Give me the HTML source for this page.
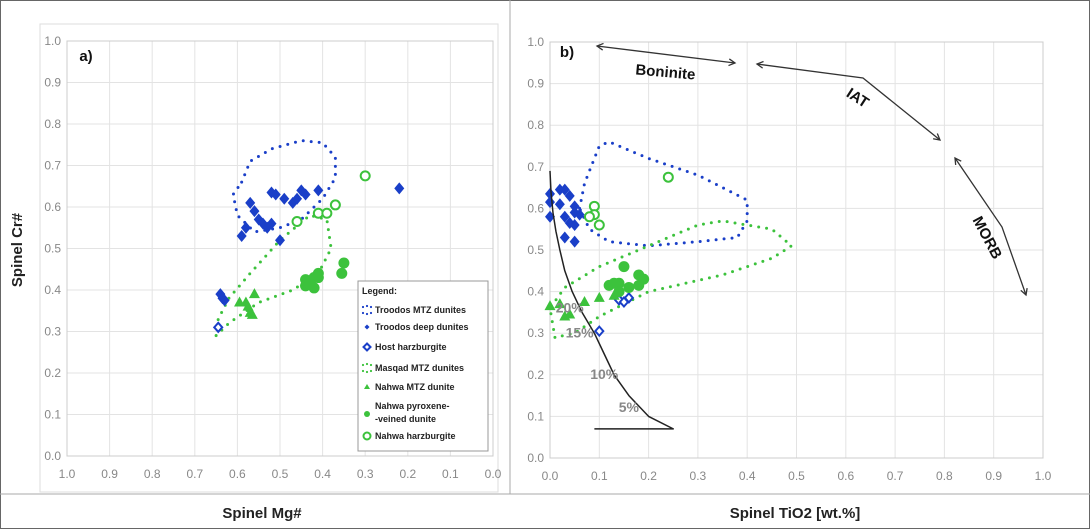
<!DOCTYPE html>
<html><head><meta charset="utf-8"><style>
body{margin:0;background:#fff}
svg{display:block;font-family:"Liberation Sans",sans-serif}
</style></head><body>
<svg id="c" width="1090" height="530" viewBox="0 0 1090 530">
<rect x="0.5" y="0.5" width="1089" height="528" fill="#fff" stroke="#666"/>
<line x1="0" y1="494" x2="1090" y2="494" stroke="#aaa"/>
<line x1="510" y1="0" x2="510" y2="494" stroke="#aaa"/>
<rect x="40" y="24" width="458" height="468" fill="none" stroke="#ddd"/>
<text x="22" y="250" transform="rotate(-90 22 250)" text-anchor="middle" font-size="15" font-weight="bold" fill="#222">Spinel Cr#</text>
<text x="262" y="518" text-anchor="middle" font-size="15" font-weight="bold" fill="#222">Spinel Mg#</text>
<text x="795" y="518" text-anchor="middle" font-size="15" font-weight="bold" fill="#222">Spinel TiO2 [wt.%]</text>
<g id="ga"></g><g id="gb"></g>
</svg>
<script>
// ---- data panel a (Mg#, Cr#)
const aDeepMg=[0.52,0.51,0.49,0.47,0.45,0.44,0.41,0.46,0.57,0.56,0.55,0.54,0.53,0.52,0.58,0.59,0.50,0.22,0.64,0.635,0.63];
const aDeepCr=[0.635,0.63,0.62,0.61,0.64,0.63,0.64,0.62,0.61,0.59,0.57,0.56,0.55,0.56,0.55,0.53,0.52,0.645,0.39,0.38,0.375];
const aHostMg=[0.645];
const aHostCr=[0.31];
const aMtzMg=[0.58,0.575,0.57,0.56,0.565,0.595];
const aMtzCr=[0.37,0.36,0.345,0.39,0.34,0.37];
const aPyxMg=[0.44,0.43,0.42,0.41,0.44,0.42,0.41,0.35,0.355,0.43];
const aPyxCr=[0.41,0.42,0.405,0.43,0.425,0.43,0.44,0.465,0.44,0.415];
const aHarzMg=[0.30,0.46,0.41,0.39,0.37];
const aHarzCr=[0.675,0.565,0.585,0.585,0.605];
const aTroMg=[0.59,0.57,0.52,0.45,0.40,0.37,0.37,0.40,0.45,0.50,0.56,0.60,0.61];
const aTroCr=[0.66,0.71,0.74,0.76,0.755,0.72,0.67,0.62,0.57,0.55,0.54,0.58,0.63];
const aMasMg=[0.65,0.62,0.55,0.47,0.41,0.38,0.39,0.43,0.50,0.57,0.62,0.645];
const aMasCr=[0.29,0.32,0.37,0.40,0.44,0.50,0.57,0.58,0.52,0.44,0.38,0.33];
// ---- data panel b (TiO2, Cr#)
const bDeepTi=[0.0,0.02,0.03,0.04,0.0,0.02,0.05,0.05,0.06,0.0,0.03,0.04,0.05,0.03,0.05];
const bDeepCr=[0.635,0.645,0.645,0.63,0.615,0.61,0.605,0.59,0.585,0.58,0.58,0.565,0.56,0.53,0.52];
const bHostTi=[0.10,0.14,0.16,0.15];
const bHostCr=[0.305,0.38,0.385,0.375];
const bMtzTi=[0.0,0.02,0.03,0.04,0.07,0.10,0.13];
const bMtzCr=[0.365,0.37,0.34,0.345,0.375,0.385,0.39];
const bPyxTi=[0.15,0.12,0.14,0.16,0.18,0.19,0.18,0.14,0.13];
const bPyxCr=[0.46,0.415,0.42,0.41,0.44,0.43,0.415,0.40,0.42];
const bHarzTi=[0.09,0.09,0.08,0.10,0.24];
const bHarzCr=[0.605,0.585,0.58,0.56,0.675];
const bTroTi=[0.06,0.07,0.10,0.12,0.20,0.30,0.40,0.40,0.38,0.30,0.20,0.12,0.08];
const bTroCr=[0.60,0.66,0.75,0.76,0.72,0.68,0.62,0.57,0.53,0.52,0.51,0.52,0.55];
const bMasTi=[0.01,0.00,0.03,0.10,0.20,0.30,0.35,0.45,0.49,0.45,0.35,0.20,0.10,0.05];
const bMasCr=[0.29,0.36,0.41,0.46,0.51,0.56,0.57,0.55,0.51,0.48,0.44,0.40,0.34,0.30];
const meltTi=[0,0.002,0.006,0.012,0.02,0.03,0.045,0.065,0.09,0.11,0.13,0.16,0.2,0.25,0.09];
const meltCr=[0.69,0.64,0.59,0.545,0.5,0.45,0.4,0.35,0.3,0.25,0.2,0.15,0.1,0.07,0.07];
const meltLabels=["20%","15%","10%","5%"];
const meltLabTi=[0.04,0.06,0.11,0.16];
const meltLabCr=[0.35,0.29,0.19,0.11];
const ticks=[0,0.1,0.2,0.3,0.4,0.5,0.6,0.7,0.8,0.9,1.0];

const NS="http://www.w3.org/2000/svg";
function mk(p,t,at){const e=document.createElementNS(NS,t);for(const k in at)e.setAttribute(k,at[k]);p.appendChild(e);return e;}
const BLUE="#1a3fc8",GREEN="#3cc23c";
const axA={x:v=>67+(1-v)*426,y:v=>456-v*415};
const axB={x:v=>550+v*493,y:v=>458-v*416};
function grid(g,ax,pre){
  ticks.forEach(t=>{
    const l1=mk(g,'line',{x1:ax.x(t),x2:ax.x(t),y1:ax.y(0),y2:ax.y(1),stroke:'#e3e3e3'});
    
    const l2=mk(g,'line',{x1:ax.x(0),x2:ax.x(1),y1:ax.y(t),y2:ax.y(t),stroke:'#e3e3e3'});
    
    const tx=mk(g,'text',{x:ax.x(t),y:ax.y(0)+22,'text-anchor':'middle','font-size':12,fill:'#888'});tx.textContent=t.toFixed(1);
    
    const ty=mk(g,'text',{x:Math.min(ax.x(0),ax.x(1))-6,y:ax.y(t)+4,'text-anchor':'end','font-size':12,fill:'#888'});ty.textContent=t.toFixed(1);
    
  });
  const r=mk(g,'rect',{x:Math.min(ax.x(0),ax.x(1)),y:ax.y(1),width:Math.abs(ax.x(1)-ax.x(0)),height:ax.y(0)-ax.y(1),fill:'none',stroke:'#ccc'});
  
}
function contour(g,ax,xs,ys,col,name){
  const d=xs.map((v,i)=>(i?'L':'M')+ax.x(v)+','+ax.y(ys[i])).join('')+'Z';
  const p=mk(g,'path',{d:d,fill:'none',stroke:col,'stroke-width':3,'stroke-dasharray':'0 8','stroke-linecap':'round','stroke-linejoin':'round'});
  
}
function pts(g,ax,xs,ys,kind,name){
  xs.forEach((v,i)=>{
    const x=ax.x(v),y=ax.y(ys[i]);let e;
    if(kind==='diamond')e=mk(g,'path',{d:`M${x},${y-6}L${x+5},${y}L${x},${y+6}L${x-5},${y}Z`,fill:BLUE});
    else if(kind==='odiamond')e=mk(g,'path',{d:`M${x},${y-4.5}L${x+4},${y}L${x},${y+4.5}L${x-4},${y}Z`,fill:'#fff',stroke:BLUE,'stroke-width':2});
    else if(kind==='tri')e=mk(g,'path',{d:`M${x},${y-6}L${x+5.5},${y+4}L${x-5.5},${y+4}Z`,fill:GREEN});
    else if(kind==='dot')e=mk(g,'circle',{cx:x,cy:y,r:5.5,fill:GREEN});
    else e=mk(g,'circle',{cx:x,cy:y,r:4.5,fill:'#fff',stroke:GREEN,'stroke-width':2});
    
    
  });
}
const ga=document.getElementById('ga'),gb=document.getElementById('gb');
grid(ga,axA,'a-');grid(gb,axB,'b-');
contour(ga,axA,aTroMg,aTroCr,BLUE,'troodos-mtz-contour-a');
contour(ga,axA,aMasMg,aMasCr,GREEN,'masqad-mtz-contour-a');
pts(ga,axA,aDeepMg,aDeepCr,'diamond','troodos-deep-point');
pts(ga,axA,aHostMg,aHostCr,'odiamond','host-harzburgite-point');
pts(ga,axA,aMtzMg,aMtzCr,'tri','nahwa-mtz-point');
pts(ga,axA,aPyxMg,aPyxCr,'dot','nahwa-pyroxene-point');
pts(ga,axA,aHarzMg,aHarzCr,'ring','nahwa-harzburgite-point');
contour(gb,axB,bTroTi,bTroCr,BLUE,'troodos-mtz-contour-b');
contour(gb,axB,bMasTi,bMasCr,GREEN,'masqad-mtz-contour-b');
pts(gb,axB,bDeepTi,bDeepCr,'diamond','troodos-deep-point');
pts(gb,axB,bHostTi,bHostCr,'odiamond','host-harzburgite-point');
pts(gb,axB,bMtzTi,bMtzCr,'tri','nahwa-mtz-point');
pts(gb,axB,bPyxTi,bPyxCr,'dot','nahwa-pyroxene-point');
pts(gb,axB,bHarzTi,bHarzCr,'ring','nahwa-harzburgite-point');
{const n=meltTi.length;let d='M'+axB.x(meltTi[0])+','+axB.y(meltCr[0]);
 for(let i=1;i<n;i++)d+='L'+axB.x(meltTi[i])+','+axB.y(meltCr[i]);
 const p=mk(gb,'path',{d:d,fill:'none',stroke:'#222','stroke-width':1.5,'stroke-linejoin':'round'});
 
 meltLabels.forEach((s,i)=>{const t=mk(gb,'text',{x:axB.x(meltLabTi[i]),y:axB.y(meltLabCr[i]),'font-size':14,'font-weight':'bold',fill:'#888','text-anchor':'middle'});t.textContent=s;
 });}
function txt(g,x,y,s,sz,rot,name){const t=mk(g,'text',{x:x,y:y,'font-size':sz,'font-weight':'bold',fill:'#111','text-anchor':'middle',transform:`rotate(${rot} ${x} ${y})`});t.textContent=s;}
txt(ga,86,61,'a)',15,0,'panel-a-label');
txt(gb,567,57,'b)',15,0,'panel-b-label');
function arrow(g,pts,name){
  const p=mk(g,'polyline',{points:pts.map(q=>q.join(',')).join(' '),fill:'none',stroke:'#333','stroke-width':1.3});
  
  [[pts[0],pts[1]],[pts[pts.length-1],pts[pts.length-2]]].forEach(([a,b])=>{
    const ang=Math.atan2(b[1]-a[1],b[0]-a[0]);const L=7;
    const h=mk(g,'polyline',{points:`${a[0]+L*Math.cos(ang+0.5)},${a[1]+L*Math.sin(ang+0.5)} ${a[0]},${a[1]} ${a[0]+L*Math.cos(ang-0.5)},${a[1]+L*Math.sin(ang-0.5)}`,fill:'none',stroke:'#333','stroke-width':1.3});
    
  });
}
arrow(gb,[[597,46],[735,63]],'boninite-arrow');
arrow(gb,[[757,64],[863,78],[940,140]],'iat-arrow');
arrow(gb,[[955,158],[1002,227],[1026,295]],'morb-arrow');
txt(gb,665,77,'Boninite',15,5,'boninite-label');
txt(gb,855,102,'IAT',15,33,'iat-label');
txt(gb,983,240,'MORB',15,62,'morb-label');
{const g=mk(ga,'g',{});
 mk(g,'rect',{x:358,y:281,width:130,height:170,fill:'#fff',stroke:'#999'});
 const t=mk(g,'text',{x:362,y:294,'font-size':9,'font-weight':'bold',fill:'#222'});t.textContent='Legend:';
 const items=[['dots',BLUE,'Troodos MTZ dunites',310],['diamond',BLUE,'Troodos deep dunites',327],['odiamond',BLUE,'Host harzburgite',347],['dots',GREEN,'Masqad MTZ dunites',368],['tri',GREEN,'Nahwa MTZ dunite',387],['dot',GREEN,'Nahwa pyroxene-',406],['ring',GREEN,'Nahwa harzburgite',436]];
 items.forEach(([k,c,s,y])=>{
  const ix=367;
  if(k==='dots'){[[-4,-3],[4,-3],[-4,3],[4,3],[0,-4],[0,4]].forEach(d=>mk(g,'circle',{cx:ix+d[0],cy:y+d[1],r:1.1,fill:c}));}
  else if(k==='diamond')mk(g,'path',{d:`M${ix},${y-2.5}L${ix+2.5},${y}L${ix},${y+2.5}L${ix-2.5},${y}Z`,fill:c});
  else if(k==='odiamond')mk(g,'path',{d:`M${ix},${y-3.5}L${ix+3.5},${y}L${ix},${y+3.5}L${ix-3.5},${y}Z`,fill:'#fff',stroke:c,'stroke-width':2});
  else if(k==='tri')mk(g,'path',{d:`M${ix},${y-3}L${ix+3},${y+2}L${ix-3},${y+2}Z`,fill:c});
  else if(k==='dot')mk(g,'circle',{cx:ix,cy:y+8,r:3,fill:c});
  else mk(g,'circle',{cx:ix,cy:y,r:3.5,fill:'#fff',stroke:c,'stroke-width':2});
  const e=mk(g,'text',{x:375,y:y+3,'font-size':9,'font-weight':'bold',fill:'#222'});e.textContent=s;
  
 });
 const e2=mk(g,'text',{x:375,y:422,'font-size':9,'font-weight':'bold',fill:'#222'});e2.textContent='-veined dunite';
 
}
</script>
</body></html>
